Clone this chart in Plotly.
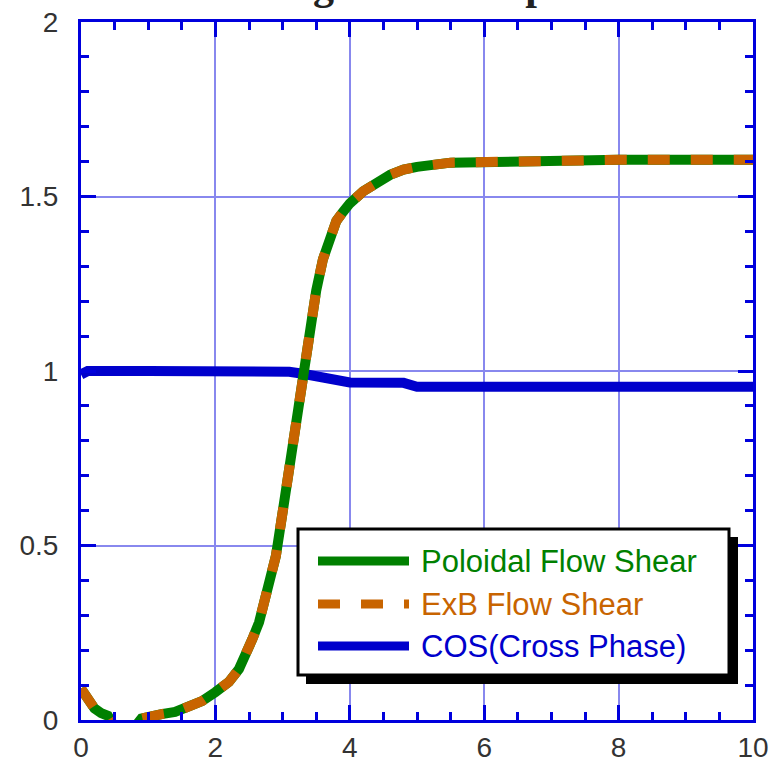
import plotly.graph_objects as go

# ---------------- data ----------------
x_flow = [0.0, 0.1, 0.2, 0.3, 0.4, 0.5, 0.6, 0.7, 0.8, 0.9, 1.0, 1.2, 1.4, 1.6, 1.8,
          2.0, 2.2, 2.35, 2.45, 2.55, 2.65, 2.72, 2.8, 2.9, 3.0, 3.1, 3.2, 3.3,
          3.4, 3.5, 3.6, 3.7, 3.8, 3.9, 4.0, 4.2, 4.4, 4.6, 4.8, 5.0, 5.5, 6.0,
          6.8, 7.0, 8.0, 9.0, 10.0]
poloidal_shear = [0.09, 0.06, 0.033, 0.02, 0.012, -0.02, -0.03, -0.03, -0.02, 0.004, 0.01,
                  0.017, 0.023, 0.037, 0.054, 0.08, 0.109, 0.146, 0.183, 0.232, 0.28,
                  0.338, 0.404, 0.47, 0.595, 0.72, 0.85, 0.97, 1.12, 1.23, 1.32, 1.38,
                  1.43, 1.456, 1.48, 1.515, 1.542, 1.562, 1.577, 1.585, 1.597, 1.60,
                  1.60, 1.605, 1.605, 1.605, 1.605]
exb_shear = [0.09, 0.06, 0.033, 0.02, 0.012, -0.02, -0.03, -0.03, -0.02, 0.004, 0.01,
             0.017, 0.023, 0.037, 0.054, 0.08, 0.109, 0.146, 0.183, 0.232, 0.28,
             0.338, 0.404, 0.47, 0.595, 0.72, 0.85, 0.97, 1.12, 1.23, 1.32, 1.38,
             1.43, 1.456, 1.48, 1.515, 1.542, 1.562, 1.577, 1.585, 1.597, 1.60,
             1.60, 1.605, 1.605, 1.605, 1.605]

x_cos = [0.0, 0.1, 1.0, 2.0, 3.0, 3.1, 3.3, 3.5, 3.7, 3.9, 4.0, 4.8, 4.9, 5.0, 6.0, 8.0, 10.0]
cos_phase = [0.99, 1.0, 1.0, 1.0, 1.0, 0.998, 0.992, 0.985, 0.977, 0.969, 0.967, 0.966,
             0.957, 0.955, 0.955, 0.955, 0.955]

series_names = ["Poloidal Flow Shear", "ExB Flow Shear", "COS(Cross Phase)"]
title_text = "Shearing Rate Comparison"

# ---------------- styling ----------------
GREEN = "#008000"
ORANGE = "#C86400"
BLUE = "#0000CC"
AXIS_BLUE = "#0000DD"
GRID = "#8888EE"

W, H = 784, 764
L, R, T, B = 81, 31, 22, 44
PW, PH = W - L - R, H - T - B


def px(xp):
    return (xp - L) / PW


def py(yp):
    return (H - B - yp) / PH


fig = go.Figure()
fig.add_trace(go.Scatter(x=x_cos, y=cos_phase, mode="lines", name=series_names[2],
                         line=dict(color=BLUE, width=10), showlegend=False))
fig.add_trace(go.Scatter(x=x_flow, y=poloidal_shear, mode="lines", name=series_names[0],
                         line=dict(color=GREEN, width=10), showlegend=False))
fig.add_trace(go.Scatter(x=x_flow, y=exb_shear, mode="lines", name=series_names[1],
                         line=dict(color=ORANGE, width=10, dash="22px,21px"),
                         showlegend=False))

axis_common = dict(
    ticks="inside", ticklen=15, tickwidth=3, tickcolor=AXIS_BLUE,
    showline=True, linecolor=AXIS_BLUE, linewidth=3, mirror="ticks",
    showgrid=True, gridcolor=GRID, gridwidth=2, zeroline=False,
    tickfont=dict(family="Liberation Sans, Arial", size=28, color="#333333"),
    automargin=False,
)

fig.update_xaxes(range=[0, 10], tick0=0, dtick=2, ticklabelstandoff=0,
                 minor=dict(dtick=0.5, ticks="inside", ticklen=8, tickwidth=3,
                            tickcolor=AXIS_BLUE, showgrid=False),
                 **axis_common)
fig.update_yaxes(range=[0, 2], tick0=0, dtick=0.5, ticklabelstandoff=14,
                 minor=dict(dtick=0.1, ticks="inside", ticklen=8, tickwidth=3,
                            tickcolor=AXIS_BLUE, showgrid=False),
                 **axis_common)

# ---------------- custom legend ----------------
shapes = []
annotations = []
# shadow
shapes.append(dict(type="rect", xref="paper", yref="paper",
                   x0=px(306), x1=px(738), y0=py(684), y1=py(537),
                   fillcolor="black", line=dict(width=0), layer="above"))
# box
shapes.append(dict(type="rect", xref="paper", yref="paper",
                   x0=px(298), x1=px(729), y0=py(675), y1=py(529),
                   fillcolor="white", line=dict(color="black", width=3), layer="above"))
legend_rows = [
    (series_names[0], GREEN, "solid", 561),
    (series_names[1], ORANGE, "22px,21px", 604),
    (series_names[2], BLUE, "solid", 646),
]
for name, col, dash, yc in legend_rows:
    shapes.append(dict(type="line", xref="paper", yref="paper",
                       x0=px(318), x1=px(409), y0=py(yc), y1=py(yc),
                       line=dict(color=col, width=9, dash=dash), layer="above"))
    annotations.append(dict(text=name, xref="paper", yref="paper",
                            x=px(419), y=py(yc), xanchor="left", yanchor="middle",
                            showarrow=False,
                            font=dict(family="Liberation Sans, Arial", size=31, color=col)))

# title (mostly cut off at the top of the page, as in the reference)
annotations.append(dict(text="<b>" + title_text + "</b>", xref="paper", yref="paper",
                        x=0.5, y=py(10), xanchor="center", yanchor="bottom",
                        showarrow=False,
                        font=dict(family="Liberation Serif, Times New Roman", size=42,
                                  color="#222222")))

fig.update_layout(
    width=W, height=H, autosize=False,
    margin=dict(l=L, r=R, t=T, b=B, autoexpand=False),
    paper_bgcolor="white", plot_bgcolor="white",
    shapes=shapes, annotations=annotations, showlegend=False,
)

fig.write_html("out.html")
